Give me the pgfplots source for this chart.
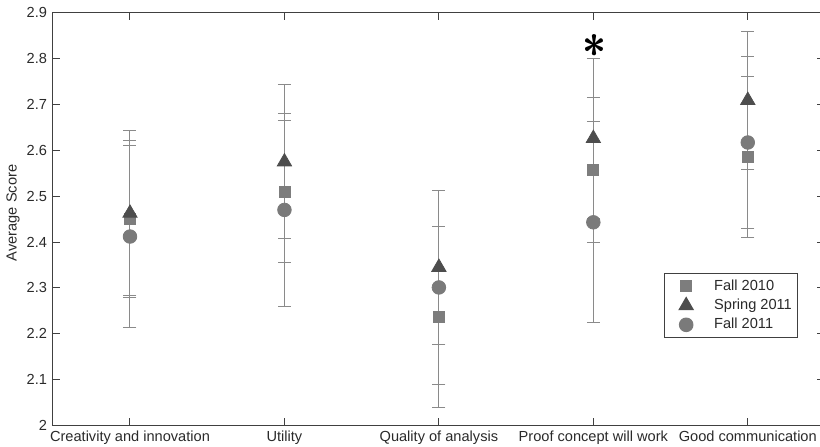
\documentclass[border=0pt]{standalone}
\usepackage{fontspec}
\setmainfont{Liberation Sans}
\usepackage{pgfplots}
\pgfplotsset{compat=1.18}
\definecolor{axc}{HTML}{404040}
\definecolor{errc}{HTML}{8A8A8A}
\definecolor{sqc}{HTML}{7D7D7D}
\definecolor{trc}{HTML}{4D4D4D}
\definecolor{cic}{HTML}{7A7A7A}
\definecolor{txc}{HTML}{2A2A2A}
\pgfplotstableread{
x y e
1 2.451 0.171
2 2.510 0.155
3 2.237 0.197
4 2.557 0.158
5 2.585 0.175
}\fallten
\pgfplotstableread{
x y e
1 2.463 0.180
2 2.575 0.168
3 2.345 0.168
4 2.626 0.175
5 2.709 0.150
}\springeleven
\pgfplotstableread{
x y e
1 2.412 0.198
2 2.470 0.210
3 2.301 0.212
4 2.443 0.219
5 2.617 0.187
}\falleleven
\begin{document}
\begin{tikzpicture}
\begin{axis}[
  scale only axis,
  width=386.5pt, height=206.4pt,
  xmin=0.495, xmax=5.5, ymin=2, ymax=2.9,
  xtick={1,2,3,4,5},
  xticklabels={Creativity and innovation, Utility, Quality of analysis, Proof concept will work, Good communication},
  ytick={2,2.1,2.2,2.3,2.4,2.5,2.6,2.7,2.8,2.9},
  yticklabels={2,2.1,2.2,2.3,2.4,2.5,2.6,2.7,2.8,2.9},
  /pgf/number format/assume math mode=true,
  tick label style={font=\fontsize{7.3}{8}\selectfont, text=txc},
  xticklabel style={yshift=1pt},
  yticklabel style={xshift=1pt},
  ylabel={Average Score},
  ylabel style={font=\fontsize{7.3}{8}\selectfont, text=txc, at={(axis description cs:-0.0505,0.515)}, anchor=center},
  major tick length=3.8pt,
  tick align=inside,
  axis line style={axc, line width=0.5pt},
  every tick/.style={axc, line width=0.5pt},
  clip=false,
  legend style={at={(0.9655,0.369)}, anchor=north east, draw=axc, line width=0.5pt,
    font=\fontsize{7.3}{8}\selectfont, text=txc, inner sep=2pt, row sep=0.8pt,
    nodes={inner sep=1pt}},
  legend cell align=left,
  legend image code/.code={\path[draw=none, fill=none] (-9pt,-1pt) rectangle (13pt,1pt);
    \draw[#1] plot coordinates {(0pt,0pt)};},
  error bars/y dir=both,
  error bars/y explicit,
  error bars/error mark=-,
  error bars/error bar style={errc, line width=0.5pt, solid},
  error bars/error mark options={rotate=90, errc, line width=0.5pt, mark size=3.25pt, solid},
]
\addplot[only marks, mark=square*, mark size=2.75pt, color=sqc, mark options={fill=sqc, draw=sqc}]
  table[x=x, y=y, y error=e] {\fallten};
\addlegendentry{Fall 2010}
\addplot[only marks, mark=triangle*, mark size=4.1pt, color=trc, mark options={fill=trc, draw=trc}]
  table[x=x, y=y, y error=e] {\springeleven};
\addlegendentry{Spring 2011}
\addplot[only marks, mark=*, mark size=3.4pt, color=cic, mark options={fill=cic, draw=cic}]
  table[x=x, y=y, y error=e] {\falleleven};
\addlegendentry{Fall 2011}
\node[inner sep=0pt, font=\fontsize{24}{24}\usefont{TU}{lmr}{b}{n}] at (axis cs:4.01,2.813) {*};
\end{axis}
\pgfresetboundingbox
\useasboundingbox ([shift={(-26pt,-10.75pt)}]current axis.south west) rectangle ([shift={(-2.5pt,6.35pt)}]current axis.north east);
\end{tikzpicture}
\end{document}
